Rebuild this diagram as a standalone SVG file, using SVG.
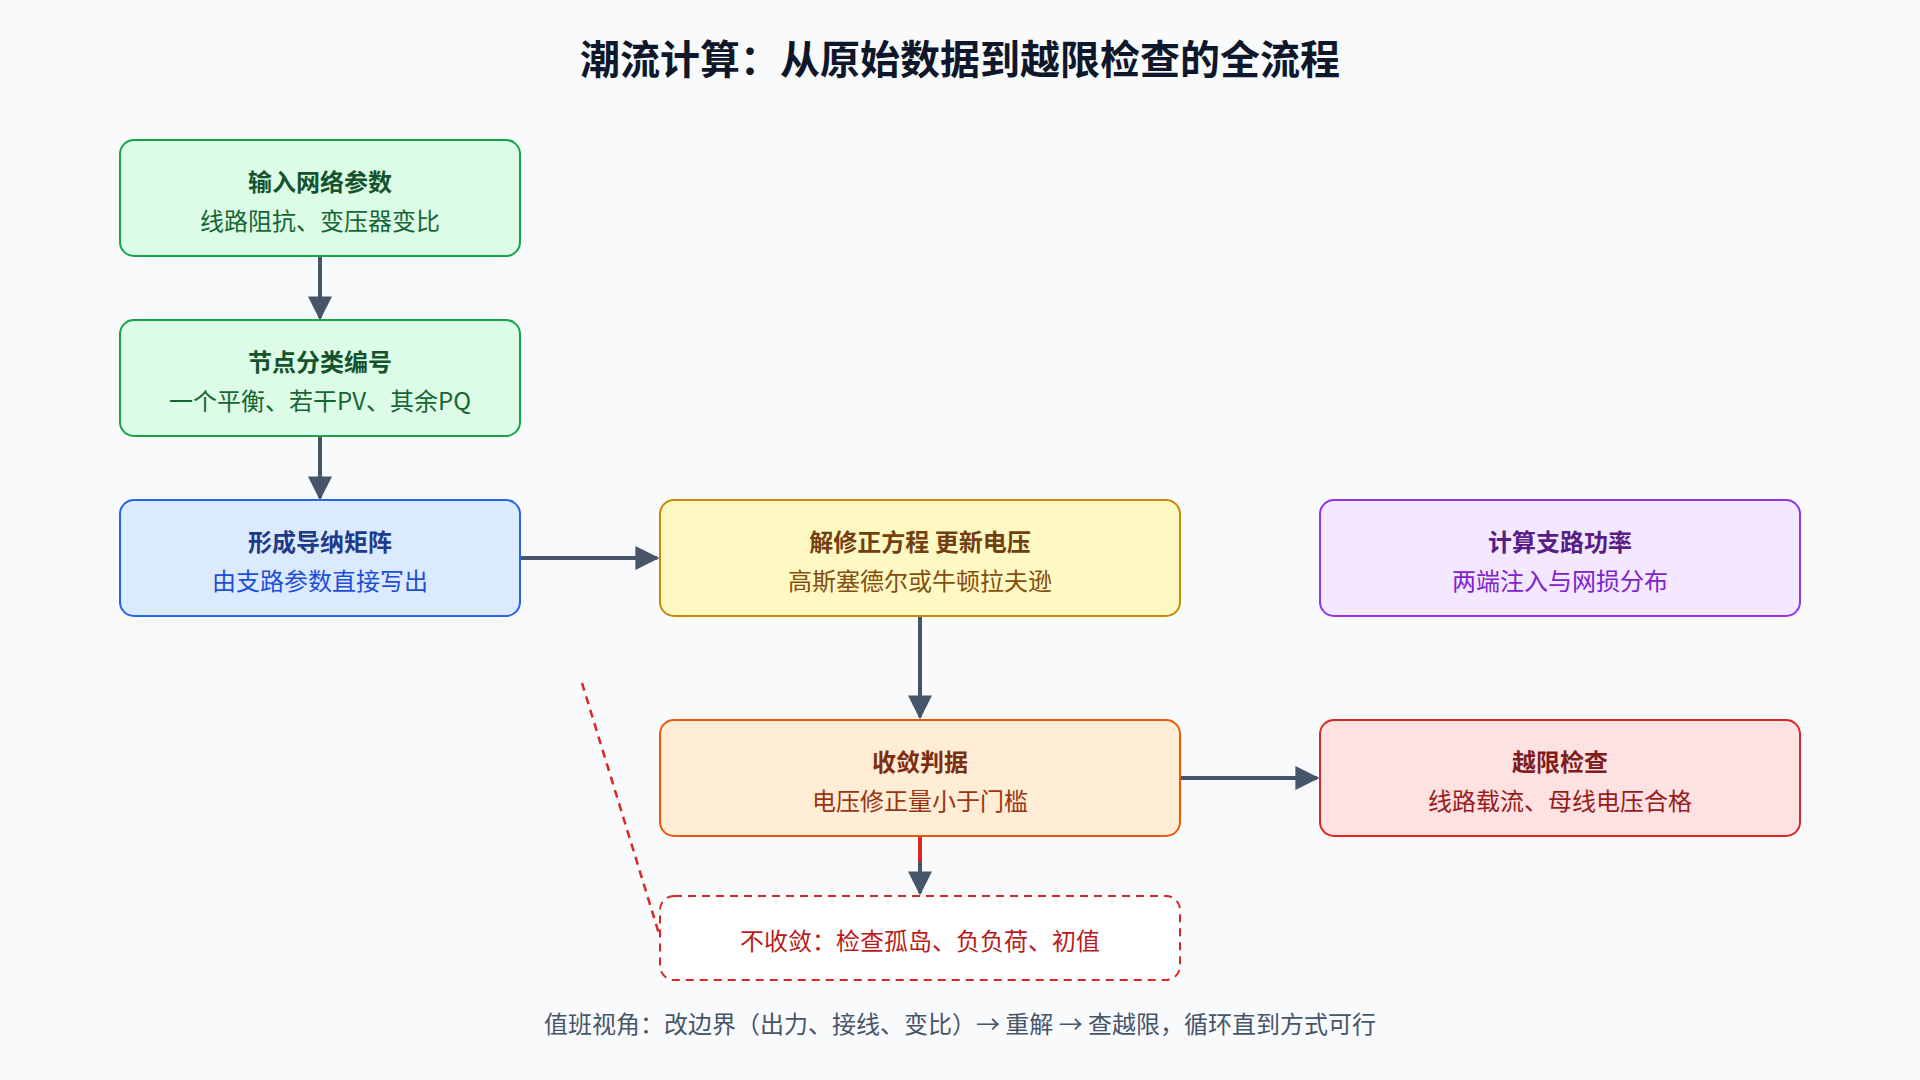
<svg xmlns="http://www.w3.org/2000/svg" width="1920" height="1080" viewBox="0 0 1920 1080">
<defs>
<marker id="ah" viewBox="0 0 10 10" refX="9" refY="5" markerWidth="6" markerHeight="6" orient="auto" markerUnits="strokeWidth"><path d="M0,0 L10,5 L0,10 z" fill="#475569"/></marker>
<style>
text{font-family:"Noto Sans CJK SC","Noto Sans",sans-serif;text-anchor:middle;dominant-baseline:central}
.t{font-size:24px;font-weight:700}
.s{font-size:24px}
.n{stroke-width:2}
.c{stroke:#475569;stroke-width:4;fill:none;marker-end:url(#ah)}
</style>
</defs>
<rect width="1920" height="1080" fill="#f8fafc"/>
<text x="960" y="57" style="font-size:40px;font-weight:700" fill="#0f172a">潮流计算：从原始数据到越限检查的全流程</text>
<g id="connectors">
<line class="c" x1="320" y1="256" x2="320" y2="318"/>
<line class="c" x1="320" y1="436" x2="320" y2="498"/>
<line class="c" x1="520" y1="558" x2="657" y2="558"/>
<line class="c" x1="920" y1="616" x2="920" y2="717"/>
<line class="c" x1="1180" y1="778" x2="1317" y2="778"/>
<line x1="920" y1="836" x2="920" y2="866" stroke="#dc2626" stroke-width="4"/>
<line class="c" x1="920" y1="862" x2="920" y2="893"/>
<line x1="582" y1="683" x2="660" y2="937" stroke="#dc2626" stroke-width="2.5" stroke-dasharray="8,6"/>
</g>
<g id="n1"><rect class="n" x="120" y="140" width="400" height="116" rx="14" fill="#dcfce7" stroke="#16a34a"/><text class="t" x="320" y="180" fill="#14532d">输入网络参数</text><text class="s" x="320" y="219" fill="#166534">线路阻抗、变压器变比</text></g>
<g id="n2"><rect class="n" x="120" y="320" width="400" height="116" rx="14" fill="#dcfce7" stroke="#16a34a"/><text class="t" x="320" y="360" fill="#14532d">节点分类编号</text><text class="s" x="320" y="399" fill="#166534">一个平衡、若干PV、其余PQ</text></g>
<g id="n3"><rect class="n" x="120" y="500" width="400" height="116" rx="14" fill="#dbeafe" stroke="#2563eb"/><text class="t" x="320" y="540" fill="#1e3a8a">形成导纳矩阵</text><text class="s" x="320" y="579" fill="#1d4ed8">由支路参数直接写出</text></g>
<g id="n4"><rect class="n" x="660" y="500" width="520" height="116" rx="14" fill="#fef9c3" stroke="#ca8a04"/><text class="t" x="920" y="540" fill="#713f12">解修正方程 更新电压</text><text class="s" x="920" y="579" fill="#854d0e">高斯塞德尔或牛顿拉夫逊</text></g>
<g id="n5"><rect class="n" x="1320" y="500" width="480" height="116" rx="14" fill="#f3e8ff" stroke="#9333ea"/><text class="t" x="1560" y="540" fill="#581c87">计算支路功率</text><text class="s" x="1560" y="579" fill="#7e22ce">两端注入与网损分布</text></g>
<g id="n6"><rect class="n" x="660" y="720" width="520" height="116" rx="14" fill="#ffedd5" stroke="#ea580c"/><text class="t" x="920" y="760" fill="#7c2d12">收敛判据</text><text class="s" x="920" y="799" fill="#9a3412">电压修正量小于门槛</text></g>
<g id="n7"><rect class="n" x="1320" y="720" width="480" height="116" rx="14" fill="#fee2e2" stroke="#dc2626"/><text class="t" x="1560" y="760" fill="#7f1d1d">越限检查</text><text class="s" x="1560" y="799" fill="#991b1b">线路载流、母线电压合格</text></g>
<g id="n8"><rect x="660" y="896" width="520" height="84" rx="14" fill="#ffffff" stroke="#dc2626" stroke-width="2" stroke-dasharray="8,6"/><text class="s" x="920" y="939" fill="#b91c1c">不收敛：检查孤岛、负负荷、初值</text></g>
<text x="960" y="1022" style="font-size:24px" fill="#475569">值班视角：改边界（出力、接线、变比）→ 重解 → 查越限，循环直到方式可行</text>
</svg>
